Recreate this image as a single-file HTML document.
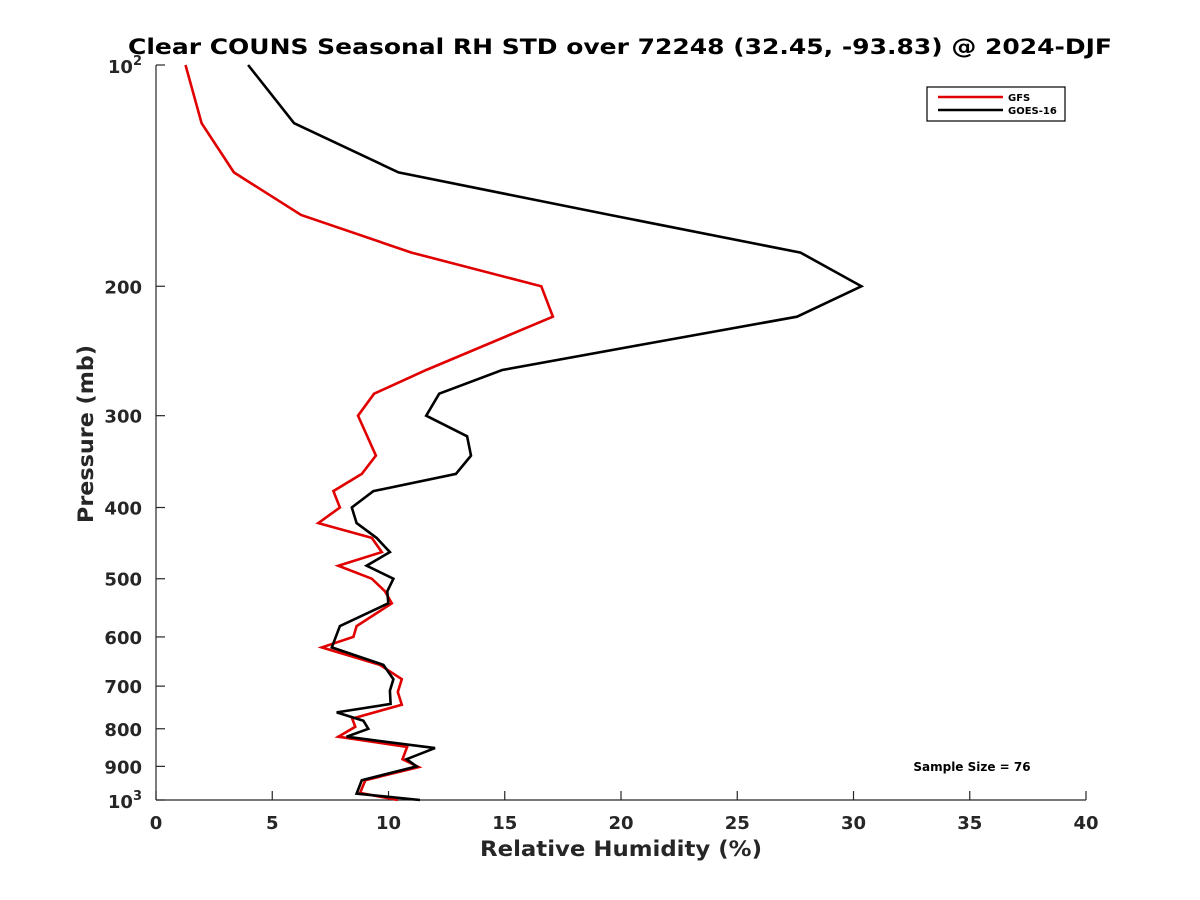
<!DOCTYPE html>
<html><head><meta charset="utf-8"><style>
body{margin:0;background:#fff;}
svg{display:block;font-family:"DejaVu Sans","Liberation Sans",sans-serif;}
</style></head><body>
<svg id="chart" width="1200" height="900" viewBox="0 0 1200 900">
<rect width="1200" height="900" fill="#fff"/>
<text x="620" y="54" text-anchor="middle" font-size="21.5" font-weight="bold" fill="#000" textLength="984" lengthAdjust="spacingAndGlyphs">Clear COUNS Seasonal RH STD over 72248 (32.45, -93.83) @ 2024-DJF</text>
<g id="axes"></g>
<g id="series"></g>
<g>
<rect x="927" y="87" width="138" height="34" fill="#fff" stroke="#000" stroke-width="1.2"/>
<line x1="938" y1="97" x2="1003" y2="97" stroke="#e00000" stroke-width="2.5"/>
<text x="1008" y="101" font-size="10" font-weight="bold">GFS</text>
<line x1="938" y1="110" x2="1003" y2="110" stroke="#000" stroke-width="2.5"/>
<text x="1008" y="114" font-size="10" font-weight="bold">GOES-16</text>
</g>
<text x="972" y="771" text-anchor="middle" font-size="12" font-weight="bold">Sample Size = 76</text>
<text x="621" y="856" text-anchor="middle" font-size="21" font-weight="bold" fill="#262626" textLength="282" lengthAdjust="spacingAndGlyphs">Relative Humidity (%)</text>
<text transform="translate(93,434) rotate(-90)" text-anchor="middle" font-size="21" font-weight="bold" fill="#262626" textLength="178" lengthAdjust="spacingAndGlyphs">Pressure (mb)</text>
</svg>
<script>
const xTicks=[0,5,10,15,20,25,30,35,40];
const yTicks=[100,200,300,400,500,600,700,800,900,1000];
const yTickLabels=["","200","300","400","500","600","700","800","900",""];
const gfsP=[100,120,140,160,180,200,220,260,280,300,340,360,380,400,420,440,460,480,500,520,540,580,600,620,655,685,713,742,775,795,820,847,880,902,940,978,1000];
const gfsRH=[1.27,1.96,3.35,6.24,10.99,16.57,17.07,11.62,9.38,8.69,9.46,8.85,7.63,7.91,6.98,9.28,9.71,7.84,9.28,9.85,10.14,8.63,8.49,7.13,9.63,10.57,10.4,10.57,8.44,8.57,7.84,10.8,10.6,11.3,9.0,8.78,10.4];
const goesP=[100,120,140,160,180,200,220,240,260,280,300,320,340,360,380,400,420,440,460,480,500,520,540,580,620,655,685,710,740,760,780,800,820,850,880,900,940,980,1000];
const goesRH=[3.96,5.94,10.43,19.54,27.72,30.34,27.57,20.93,14.89,12.18,11.62,13.38,13.55,12.9,9.35,8.42,8.63,9.49,10.06,9.06,10.21,9.95,9.99,7.91,7.56,9.78,10.21,10.06,10.09,7.77,8.92,9.13,8.2,12.0,10.78,11.21,8.85,8.63,11.35];

const X0=156,X1=1086,Y0=65,Y1=800;
function xs(v){return X0+(v-0)/(40-0)*(X1-X0);}
function ys(p){return Y0+(Math.log10(p)-2)*(Y1-Y0);}
const NS="http://www.w3.org/2000/svg";
function mk(tag,attrs,parent){const e=document.createElementNS(NS,tag);for(const k in attrs)e.setAttribute(k,attrs[k]);parent.appendChild(e);return e;}
const ax=document.getElementById('axes');
const xl=mk('line',{x1:X0,y1:Y1,x2:X1,y2:Y1,stroke:'#262626','stroke-width':1.2},ax);


const yl=mk('line',{x1:X0,y1:Y0,x2:X0,y2:Y1,stroke:'#262626','stroke-width':1.2},ax);


xTicks.forEach(v=>{
 const x=xs(v);
 mk('line',{x1:x,y1:Y1,x2:x,y2:Y1-9,stroke:'#262626','stroke-width':1.2},ax);
 const t=mk('text',{x:x,y:Y1+29,'text-anchor':'middle','font-size':18,'font-weight':'bold',fill:'#262626'},ax);
 t.textContent=v;
 
 
});
yTicks.forEach((p,i)=>{
 const y=ys(p);
 mk('line',{x1:X0,y1:y,x2:X0+9,y2:y,stroke:'#262626','stroke-width':1.2},ax);
 if(yTickLabels[i]){
  const t=mk('text',{x:X0-14,y:y+7,'text-anchor':'end','font-size':18,'font-weight':'bold',fill:'#262626'},ax);
  t.textContent=yTickLabels[i];
  
  
 }
});
[[100,'2'],[1000,'3']].forEach(([p,e])=>{
 const y=ys(p);
 const t=mk('text',{x:X0-14,y:y+8,'text-anchor':'end','font-size':18,'font-weight':'bold',fill:'#262626'},ax);
 t.innerHTML='10<tspan dy="-8" font-size="13">'+e+'</tspan>';
 
 
});
const sg=document.getElementById('series');
function line(P,R,color,name){
 const pts=P.map((p,i)=>xs(R[i]).toFixed(1)+','+ys(p).toFixed(1)).join(' ');
 const pl=mk('polyline',{points:pts,fill:'none',stroke:color,'stroke-width':2.6,'stroke-linejoin':'miter'},sg);
 
 
}
line(gfsP,gfsRH,'#e00000','gfs-line');
line(goesP,goesRH,'#000','goes16-line');
</script>
</body></html>
